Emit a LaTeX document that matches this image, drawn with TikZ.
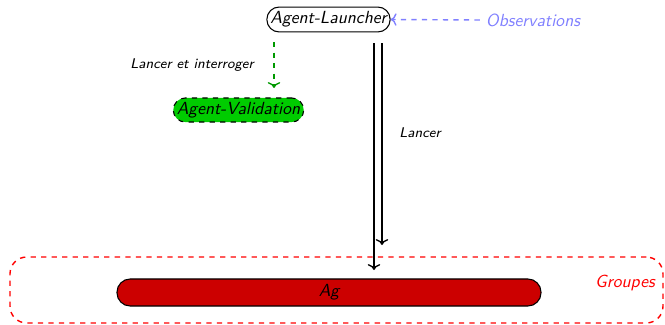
\documentclass[tikz,border=0pt]{standalone}
\usetikzlibrary{arrows.meta}
\begin{document}
\begin{tikzpicture}[x=0.57pt,y=-0.57pt,
  every node/.style={font=\sffamily\itshape},
  agentbox/.style={draw=black,semithick,rounded corners=7pt,inner sep=2pt,minimum height=14.2pt},
  lbl/.style={font=\sffamily\itshape\footnotesize},
  conn/.style={->,thick}]
\useasboundingbox (0,0) rectangle (665,325);
\node[draw=red,dashed,thick,rounded corners=9.5pt,minimum width=372.2pt,minimum height=37.6pt] (grp) at (336.5,290) {};
\node[text=red] (grplbl) at (625,283) {Groupes};
\node[agentbox,fill=red!80!black,minimum width=241.7pt,minimum height=15.4pt,rounded corners=7.5pt] (ag) at (329,292.5) {Ag};
\node[agentbox] (launcher) at (328.5,19.5) {Agent-Launcher};
\node[text=blue!50] (obs) at (533,20) {Observations};
\node[agentbox,dashed,fill=green!80!black,minimum height=13.7pt,rounded corners=6.8pt] (valid) at (238.5,110) {Agent-Validation};
\node[lbl] (lbl1) at (192,65) {Lancer et interroger};
\node[lbl] (lbl2) at (420,133) {Lancer};
\coordinate (g1) at (274,42);
\coordinate (g2) at (274,88);
\coordinate (a1s) at (374,43);
\coordinate (a1e) at (374,270);
\coordinate (a2s) at (382,43);
\coordinate (a2e) at (382,245);
\draw[conn,dashed,blue!50] (obs.west) -- (launcher.east);
\draw[conn,dashed,green!60!black] (g1) -- (g2);
\draw[conn] (a1s) -- (a1e);
\draw[conn] (a2s) -- (a2e);
\end{tikzpicture}
\end{document}
